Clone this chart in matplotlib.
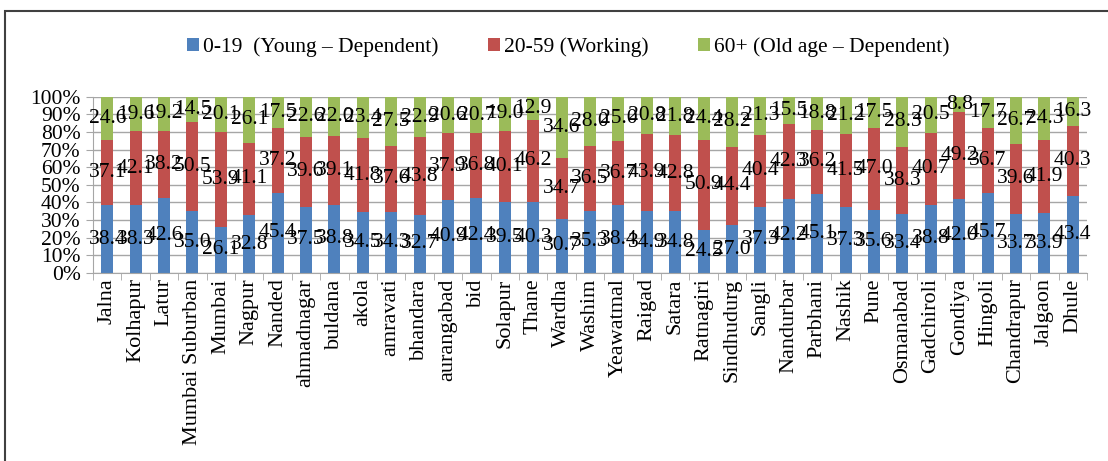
import numpy as np
import matplotlib
matplotlib.use('Agg')
import matplotlib.pyplot as plt
from matplotlib.patches import Rectangle

districts = ['Jalna', 'Kolhapur', 'Latur', 'Mumbai Suburban', 'Mumbai', 'Nagpur',
             'Nanded', 'ahmadnagar', 'buldana', 'akola', 'amravati', 'bhandara',
             'aurangabad', 'bid', 'Solapur', 'Thane', 'Wardha', 'Washim',
             'Yeawatmal', 'Raigad', 'Satara', 'Ratnagiri', 'Sindhudurg', 'Sangli',
             'Nandurbar', 'Parbhani', 'Nashik', 'Pune', 'Osmanabad', 'Gadchiroli',
             'Gondiya', 'Hingoli', 'Chandrapur', 'Jalgaon', 'Dhule']
young = [38.4, 38.3, 42.6, 35.0, 26.1, 32.8, 45.4, 37.5, 38.8, 34.5, 34.3, 32.7,
         40.9, 42.4, 39.5, 40.3, 30.7, 35.3, 38.4, 34.9, 34.8, 24.5, 27.0, 37.3,
         42.2, 45.1, 37.3, 35.6, 33.4, 38.8, 42.0, 45.7, 33.7, 33.9, 43.4]
working = [37.1, 42.1, 38.2, 50.5, 53.9, 41.1, 37.2, 39.6, 39.1, 41.8, 37.6, 43.8,
           37.9, 36.8, 40.1, 46.2, 34.7, 36.5, 36.7, 43.9, 42.8, 50.9, 44.4, 40.4,
           42.3, 36.2, 41.5, 47.0, 38.3, 40.7, 49.2, 36.7, 39.6, 41.9, 40.3]
old = [24.6, 19.6, 19.2, 14.5, 20.1, 26.1, 17.5, 22.6, 22.0, 23.4, 27.5, 22.9,
       20.6, 20.7, 19.0, 12.9, 34.6, 28.0, 25.0, 20.8, 21.8, 24.4, 28.2, 21.3,
       15.5, 18.8, 21.2, 17.5, 28.3, 20.5, 8.8, 17.7, 26.7, 24.3, 16.3]
series_names = ['0-19  (Young \u2013 Dependent)', '20-59 (Working)',
                '60+ (Old age \u2013 Dependent)']
colors = ['#4F81BD', '#C0504D', '#9BBB59']

plt.rcParams['font.family'] = ['Liberation Serif', 'DejaVu Serif']

vals = np.array([young, working, old])
pct = vals / vals.sum(axis=0) * 100
x = np.arange(len(districts))

fig = plt.figure(figsize=(11.08, 4.61), dpi=100)
ax = fig.add_axes([0.084, 0.408, 0.897, 0.382])

bottom = np.zeros(len(districts))
for i in range(3):
    ax.bar(x, pct[i], bottom=bottom, width=0.42, color=colors[i],
           label=series_names[i], zorder=2)
    for j in range(len(districts)):
        ax.text(x[j], bottom[j] + pct[i][j] / 2, f'{vals[i][j]:.1f}',
                ha='center', va='center', fontsize=15.5, zorder=3)
    bottom += pct[i]

ax.set_xlim(-0.5, len(districts) - 0.5)
ax.set_ylim(0, 100)
ax.set_yticks(np.arange(0, 101, 10))
ax.set_yticklabels([f'{v}%' for v in range(0, 101, 10)], fontsize=15.5)
ax.yaxis.grid(True, color='#A6A6A6', linewidth=1, zorder=0)
ax.set_xticks(x)
ax.set_xticklabels(districts, rotation=90, fontsize=16)
ax.tick_params(axis='x', which='major', length=0, pad=4)
ax.set_xticks(np.arange(-0.5, len(districts), 1), minor=True)
ax.tick_params(axis='x', which='minor', length=5, color='#A6A6A6')
ax.tick_params(axis='y', length=5, color='#A6A6A6', pad=4)
for side in ['top', 'right']:
    ax.spines[side].set_visible(False)
ax.spines['left'].set_color('#A6A6A6')
ax.spines['bottom'].set_color('#A6A6A6')

fig.legend(loc='center', bbox_to_anchor=(0.513, 0.897), ncol=3, frameon=False,
           fontsize=15.5, handlelength=0.55, handleheight=0.55, handletextpad=0.2,
           columnspacing=2.3)

fig.patches.append(Rectangle((5 / 1108, -0.1), 1.2, (461 - 11) / 461 + 0.1,
                             transform=fig.transFigure, fill=False,
                             edgecolor='#404040', linewidth=1.5))

fig.savefig('out.png', dpi=100)
